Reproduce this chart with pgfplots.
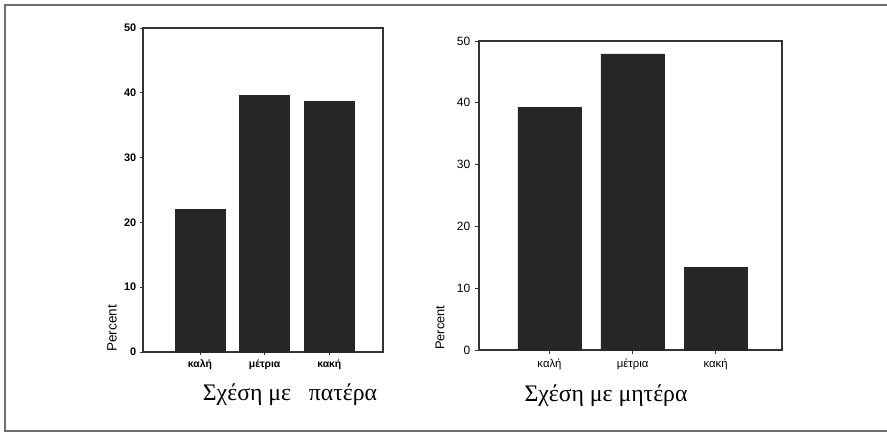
\documentclass[border=0pt]{standalone}
\usepackage{pgfplots}
\pgfplotsset{compat=1.18}
\usepackage{fontspec}
\setmainfont{Liberation Serif}
\newfontfamily\arial{Liberation Sans}
\definecolor{barc}{RGB}{38,38,38}
\definecolor{framec}{RGB}{110,110,110}
\begin{document}
\begin{tikzpicture}
\begin{scope}[x=0.75pt,y=0.75pt]
\path[use as bounding box] (0,0) rectangle (887,433);
\draw[framec, line width=1.1pt] (887,428) -- (5,428) -- (5,2) -- (887,2);
\end{scope}
\begin{axis}[
  at={(107.25pt,60.75pt)}, anchor=south west, scale only axis,
  width=180pt, height=243pt,
  xmin=0.119, xmax=3.83, ymin=0, ymax=50,
  ytick={0,10,20,30,40,50}, xtick={1,2,3},
  xticklabels={καλή,μέτρια,κακή},
  xtick pos=bottom, ytick pos=left,
  tick align=outside, major tick length=2.5pt,
  axis line style={black!80, line width=0.8pt},
  tick style={black!80, line width=0.6pt},
  /pgf/number format/assume math mode=true,
  yticklabel style={font=\arial\bfseries\fontsize{8.2}{9}\selectfont, xshift=1pt},
  xticklabel style={font=\arial\bfseries\fontsize{7.8}{9}\selectfont},
  ybar, bar width=0.77,
]
\addplot[fill=barc, draw=barc] coordinates {(1,22.0) (2,39.6) (3,38.7)};
\end{axis}
\begin{axis}[
  at={(359.25pt,62.25pt)}, anchor=south west, scale only axis,
  width=227.25pt, height=231.75pt,
  xmin=0.151, xmax=3.80, ymin=0, ymax=50,
  ytick={0,10,20,30,40,50}, xtick={1,2,3},
  xticklabels={καλή,μέτρια,κακή},
  xtick pos=bottom, ytick pos=left,
  tick align=outside, major tick length=3pt,
  axis line style={black!80, line width=0.8pt},
  tick style={black!80, line width=0.6pt},
  /pgf/number format/assume math mode=true,
  yticklabel style={font=\arial\fontsize{9}{10}\selectfont},
  xticklabel style={font=\arial\fontsize{8.5}{10}\selectfont},
  ybar, bar width=0.76,
]
\addplot[fill=barc, draw=barc] coordinates {(1,39.3) (2,47.9) (3,13.4)};
\end{axis}
\begin{scope}[x=0.75pt,y=0.75pt]
\node[rotate=90, anchor=west, inner sep=0pt, font=\arial\fontsize{10.2}{11}\selectfont] at (112,81) {Percent};
\node[rotate=90, anchor=west, inner sep=0pt, font=\arial\fontsize{9.6}{11}\selectfont] at (440,83) {Percent};
\node[anchor=base, inner sep=0pt, font=\fontsize{17.8}{20}\selectfont] at (290,33) {Σχέση με\ \ \ πατέρα};
\node[anchor=base, inner sep=0pt, font=\fontsize{17.8}{20}\selectfont] at (606,32) {Σχέση με μητέρα};
\end{scope}
\end{tikzpicture}
\end{document}
